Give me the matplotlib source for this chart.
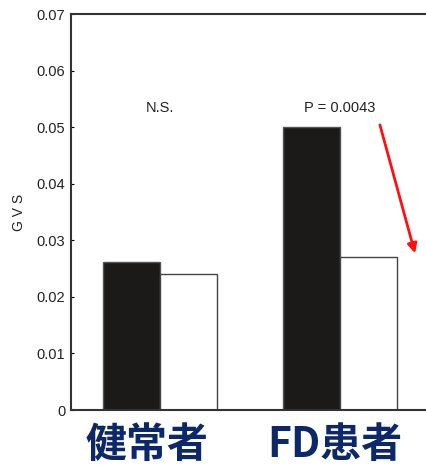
import numpy as np
import matplotlib.pyplot as plt

# GVS by group: filled bars vs open bars
groups = ['健常者', 'FD患者']
filled_vals = [0.0262, 0.0500]
open_vals = [0.0240, 0.0271]
sig_labels = ['N.S.', 'P = 0.0043']

plt.rcParams['font.family'] = ['Liberation Sans', 'DejaVu Sans']

fig = plt.figure(figsize=(4.26, 4.68), dpi=100)
ax = fig.add_axes([71 / 426, 58 / 468, 1 - 71 / 426, 396 / 468])

x = np.arange(1, len(groups) + 1)
width = 0.317
ax.bar(x - width / 2, filled_vals, width, color='#1c1a19', edgecolor='#555555', linewidth=1.0)
ax.bar(x + width / 2, open_vals, width, color='white', edgecolor='#444444', linewidth=1.0)

for xi, lab in zip(x, sig_labels):
    ax.text(xi, 0.0533, lab, ha='center', va='center', fontsize=10.5, color='#222222')

ax.set_xlim(1 - 0.494, 2.478)
ax.set_ylim(0, 0.07)
ax.set_yticks(np.arange(0, 0.071, 0.01))
ax.set_yticklabels(['0'] + [f'{v:.2f}' for v in np.arange(0.01, 0.071, 0.01)])
ax.tick_params(axis='y', direction='in', length=2.5, width=0.8, labelsize=10.5,
               labelcolor='#222222', pad=4)

ax.set_xticks(x + np.array([-0.072, -0.028]))
ax.set_xticklabels(groups, fontsize=29.5, fontweight='bold', color='#0d2868',
                   family=['Noto Sans CJK JP', 'DejaVu Sans'])
ax.tick_params(axis='x', length=0, pad=10)

ax.set_ylabel('G V S', fontsize=10, color='#222222', labelpad=8)

for side in ['left', 'top', 'bottom']:
    ax.spines[side].set_linewidth(1.5)
    ax.spines[side].set_color('#333333')
ax.spines['right'].set_visible(False)

# red arrow pointing down toward the FD open bar
ax.annotate('', xy=(2.417, 0.0277), xytext=(2.222, 0.0504),
            arrowprops=dict(arrowstyle='-|>', color='#ff1010', lw=2.0,
                            mutation_scale=14, shrinkA=0, shrinkB=0))

fig.savefig('out.png', dpi=100)
